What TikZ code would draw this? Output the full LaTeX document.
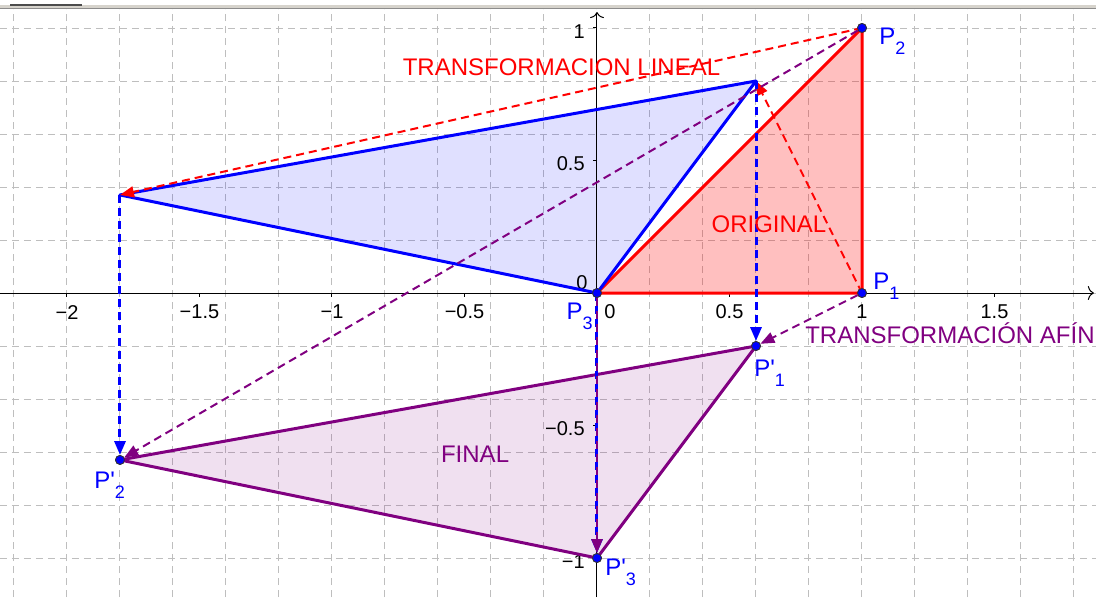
\documentclass[tikz,border=0pt]{standalone}
\usepackage{fontspec}
\newfontfamily\ggfont{Liberation Sans}
\usepackage{tikz}
\usetikzlibrary{arrows.meta,positioning,calc}
\definecolor{ggpurple}{RGB}{128,0,128}
\definecolor{gggrid}{RGB}{190,190,190}
\definecolor{ggbar}{RGB}{214,211,204}
\newcommand{\lowidx}[1]{\raisebox{-5pt}{\fontsize{9}{9}\selectfont #1}}
\tikzset{
  gridline/.style={gggrid, line width=0.5pt, dash pattern=on 3.5pt off 2.5pt},
  axisline/.style={line width=0.5pt, -{To[length=3pt,width=7pt]}},
  ticklabel/.style={font=\ggfont\fontsize{10}{12}\selectfont, inner sep=0pt},
  orig/.style={draw=red, fill=red, fill opacity=0.25, line width=1.5pt, line join=round},
  lin/.style={draw=blue, fill=blue, fill opacity=0.12, line width=1.5pt, line join=round},
  fin/.style={draw=ggpurple, fill=ggpurple, fill opacity=0.12, line width=1.5pt, line join=round},
  linarrow/.style={red, line width=1pt, dash pattern=on 4pt off 2.5pt, -{Triangle[length=7pt,width=5.5pt]}},
  transarrow/.style={blue, line width=1.5pt, dash pattern=on 4pt off 2.5pt, -{Triangle[length=7pt,width=5.5pt]}},
  afinarrow/.style={ggpurple, line width=1pt, dash pattern=on 4pt off 2.5pt, -{Triangle[length=7pt,width=5.5pt]}},
  dot/.style={circle, fill=blue, draw=black!80, line width=0.4pt, inner sep=0pt, minimum size=4.5pt},
  ptlabel/.style={text=blue, font=\ggfont\fontsize{12}{14}\selectfont, inner sep=0pt},
  title/.style={font=\ggfont\fontsize{12}{14}\selectfont, inner sep=0pt},
}

\begin{document}
\begin{tikzpicture}[x=132.5pt, y=132.5pt, font=\ggfont]
  \useasboundingbox (-2.2528,-1.1472) rectangle (1.8830,1.1057);

  % WINDOW BAR
  \fill[ggbar] (-2.2528,1.0717) rectangle (1.8830,1.0868);
  \draw[black!45, line width=0.5pt] (-2.2528,1.0717) -- (1.8830,1.0717);
  \fill[black!70] (-2.2151,1.0830) rectangle (-1.9434,1.0905);

  % GRID
  \foreach \x in {-2.2,-2.0,...,1.81}
    \draw[gridline] (\x,-1.1472) -- (\x,1.0717);
  \foreach \y in {-1.0,-0.8,...,1.01}
    \draw[gridline] (-2.2528,\y) -- (1.8830,\y);

  % POINTS
  \node[dot] (p1) at (1,0) {};
  \node[dot] (p2) at (1,1) {};
  \node[dot] (p3) at (0,0) {};
  \coordinate (l1) at (0.6,0.8);
  \coordinate (l2) at (-1.8,0.37);
  \node[dot] (f1) at (0.6,-0.2) {};
  \node[dot] (f2) at (-1.8,-0.63) {};
  \node[dot] (f3) at (0,-1) {};

  % TRIANGLE FILLS
  \fill[orig, draw=none] (p3.center) -- (p1.center) -- (p2.center) -- cycle;
  \fill[lin, draw=none] (p3.center) -- (l1) -- (l2) -- cycle;
  \fill[fin, draw=none] (f3.center) -- (f1.center) -- (f2.center) -- cycle;

  % AXES
  \draw[axisline] (-2.2528,0) -- (1.875,0);
  \draw[axisline] (0,-1.1472) -- (0,1.06);
  \foreach \x in {-2,-1.5,-1,-0.5,0.5,1,1.5}
    \draw[line width=0.5pt] (\x,0) -- (\x,-0.015);
  \foreach \y in {-1,-0.5,0.5,1}
    \draw[line width=0.5pt] (0,\y) -- (-0.015,\y);
  \foreach \x/\t [count=\i] in {-2/−2,-1.5/−1.5,-1/−1,-0.5/−0.5,0.5/0.5,1/1,1.5/1.5}
    \node[ticklabel] (xt\i) at (\x,-0.072) {\t};
  \node[ticklabel] (xt0) at (0.049,-0.072) {0};
  \foreach \y/\t [count=\i] in {-1/−1,-0.5/−0.5,0.5/0.5,1/1}
    \node[ticklabel, anchor=east] (yt\i) at (-0.045,\y-0.012) {\t};
  \node[ticklabel] (yt0) at (-0.057,0.038) {0};

  % TRIANGLE EDGES
  \draw[orig, fill=none] (p3.center) -- (p1.center) -- (p2.center) -- cycle;
  \draw[lin, fill=none] (p3.center) -- (l1) -- (l2) -- cycle;
  \draw[fin, fill=none] (f3.center) -- (f1.center) -- (f2.center) -- cycle;

  % LINEAL
  \draw[linarrow] (p2.center) -- (l2);
  \draw[linarrow] (p1.center) -- (l1);

  % TRASLACION
  \draw[transarrow] (l2) -- (f2);
  \draw[transarrow] (l1) -- (f1);
  \draw[transarrow] (p3.center) -- (f3);

  % AFIN
  \draw[afinarrow] (p2) -- (f2);
  \draw[afinarrow] (p1) -- (f1);
  \draw[afinarrow] (p3) -- (f3);

  % DOTS ON TOP
  \foreach \n in {p1,p2,p3,f1,f2,f3}
    \node[dot] at (\n) {};

  % LABELS
  \node[ptlabel, anchor=north west] (lp2) at ([xshift=8.5pt]p2.center) {P\lowidx{2}};
  \node[ptlabel, anchor=north west] (lp1) at ([xshift=5.5pt,yshift=10pt]p1.center) {P\lowidx{1}};
  \node[ptlabel, anchor=north east] (lp3) at ([xshift=-2pt,yshift=-5pt]p3.center) {P\lowidx{3}};
  \node[ptlabel, anchor=north west] (lf1) at ([xshift=-1pt,yshift=-7pt]f1.center) {P'\lowidx{1}};
  \node[ptlabel, anchor=north west] (lf2) at ([xshift=-13pt,yshift=-6pt]f2.center) {P'\lowidx{2}};
  \node[ptlabel, anchor=north west] (lf3) at ([xshift=4pt,yshift=-0.5pt]f3.center) {P'\lowidx{3}};

  \node[title, text=red] (tlin) at (-0.134,0.851) {TRANSFORMACION LINEAL};
  \node[title, text=red] (torig) at (0.649,0.26) {ORIGINAL};
  \node[title, text=ggpurple] (tafin) at (1.332,-0.151) {TRANSFORMACIÓN AFÍN};
  \node[title, text=ggpurple] (tfin) at (-0.460,-0.608) {FINAL};
\end{tikzpicture}
\end{document}
